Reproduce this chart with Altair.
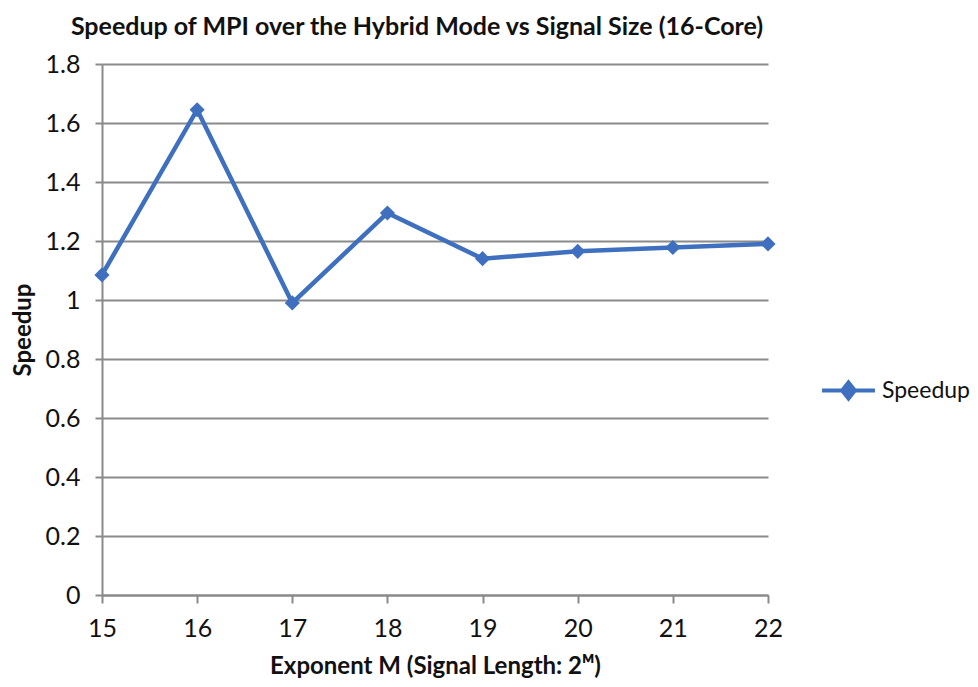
import altair as alt
import pandas as pd

exponents = [15, 16, 17, 18, 19, 20, 21, 22]
speedup = [1.085, 1.645, 0.99, 1.295, 1.14, 1.165, 1.178, 1.19]
series_name = "Speedup"
y_ticks = [0, 0.2, 0.4, 0.6, 0.8, 1.0, 1.2, 1.4, 1.6, 1.8]

df = pd.DataFrame({"M": exponents, "Speedup": speedup, "series": [series_name] * len(exponents)})

FONT = "Lato"
BLUE = "#3f70bf"
GRAY = "#8a8a8a"
TXT = "#111111"

x = alt.X("M:Q", scale=alt.Scale(domain=[15, 22], nice=False, zero=False),
          axis=alt.Axis(values=exponents, title="Exponent M (Signal Length: 2ᴹ)", format="d",
                        grid=False, domain=True, domainColor=GRAY, domainWidth=2,
                        ticks=True, tickColor=GRAY, tickSize=8, tickWidth=2,
                        labelFlush=False, labelOverlap=False,
                        labelFontSize=25, labelPadding=13, labelColor=TXT,
                        titleFontSize=24, titleFontWeight="bold", titlePadding=13, titleColor=TXT))
y = alt.Y("Speedup:Q", scale=alt.Scale(domain=[0, 1.8], nice=False),
          axis=alt.Axis(values=y_ticks, title="Speedup", format="~g",
                        grid=True, gridColor=GRAY, gridWidth=2,
                        domain=True, domainColor=GRAY, domainWidth=2,
                        ticks=True, tickColor=GRAY, tickSize=7, tickWidth=2,
                        labelFlush=False, labelOverlap=False,
                        labelFontSize=25, labelPadding=15, labelColor=TXT,
                        titleFontSize=24, titleFontWeight="bold", titlePadding=10, titleColor=TXT))

line = alt.Chart(df).mark_line(color=BLUE, strokeWidth=4.5).encode(x=x, y=y)
points = alt.Chart(df).mark_point(shape="diamond", filled=True, size=230, opacity=1).encode(
    x=x, y=y,
    color=alt.Color("series:N", scale=alt.Scale(domain=[series_name], range=[BLUE]),
                    legend=alt.Legend(title=None, orient="none", legendX=718, legendY=298,
                                      symbolType="M-1,0H1M0,-0.3L0.24,0L0,0.3L-0.24,0Z",
                                      symbolSize=2800, symbolStrokeColor=BLUE, symbolStrokeWidth=4,
                                      symbolFillColor=BLUE, symbolOpacity=1,
                                      labelFontSize=23, labelColor=TXT, labelOffset=5)))

chart = alt.layer(line, points).properties(
    width=666, height=531,
    padding={"left": 94, "top": 56, "right": 202, "bottom": 84},
    autosize=alt.AutoSizeParams(type="none"),
    title=alt.TitleParams("Speedup of MPI over the Hybrid Mode vs Signal Size (16-Core)",
                          fontSize=25, fontWeight="bold", font=FONT, color=TXT,
                          anchor="middle", dx=-18, offset=12),
).configure(font=FONT).configure_view(stroke=None).configure_axis(labelFont=FONT, titleFont=FONT)

chart.save("out.html", embed_options={"renderer": "svg", "actions": False})
